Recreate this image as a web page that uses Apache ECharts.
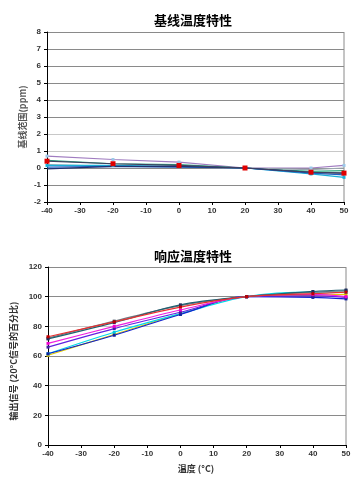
<!DOCTYPE html>
<html><head><meta charset="utf-8">
<script src="https://cdn.jsdelivr.net/npm/echarts@6/dist/echarts.min.js"></script>
<style>html,body{margin:0;padding:0;background:#fff}#c{width:359px;height:482px}</style>
</head><body><div id="c"></div>
<script>
const temps = [-40, -20, 0, 20, 40, 50];

// 基线温度特性 (ppm)
const basePurple = [0.7, 0.5, 0.35, 0, 0, 0.15];
const baseGreen  = [0.45, 0.25, 0.2, 0, -0.2, -0.15];
const baseRed    = [0.4, 0.25, 0.15, 0, -0.25, -0.3];
const baseGray   = [0.2, 0.1, 0.05, 0, -0.1, 0.0];
const baseCyan   = [0.15, 0.15, 0.1, 0, -0.35, -0.55];
const baseBlue   = [0.05, 0.1, 0.05, 0, -0.3, -0.4];
const baseNavy   = [-0.05, 0.1, 0.1, 0, -0.25, -0.3];

// 响应温度特性 (%)
const respRed     = [73, 83, 93, 100, 102, 103];
const respSlate   = [71.5, 82.5, 94.5, 100, 103.5, 104.5];
const respGray    = [72, 83.5, 94, 100, 103, 104];
const respMagenta = [68.5, 80, 91, 100, 101.5, 100];
const respViolet  = [66, 78.5, 89.5, 100, 100.5, 99.5];
const respCyan    = [61.5, 76, 88.5, 100, 103, 103];
const respBlue    = [61.5, 74, 88, 100, 99.5, 98.5];
const respYellow  = [60.5, 74.5, 88.5, 100, 101, 101.5];

const pairs = a => temps.map((t, i) => [t, a[i]]);

const tickFont = {fontFamily: 'Liberation Sans, Arial', fontSize: 8, fontWeight: 'bold', color: '#333'};

function xAxis(gi) {
  return {
    type: 'value', gridIndex: gi, min: -40, max: 50, interval: 10,
    axisLine: {onZero: false, lineStyle: {color: '#000', width: 1}},
    axisTick: {show: true, length: 3, lineStyle: {color: '#000'}},
    axisLabel: Object.assign({margin: 5}, tickFont),
    splitLine: {show: false}
  };
}
function yAxis(gi, min, max, interval, gridColors) {
  return {
    type: 'value', gridIndex: gi, min: min, max: max, interval: interval,
    axisLine: {show: true, onZero: false, lineStyle: {color: '#000', width: 1}},
    axisTick: {show: true, length: 3, lineStyle: {color: '#000'}},
    axisLabel: Object.assign({margin: 6}, tickFont),
    splitLine: {show: true, lineStyle: {color: gridColors, width: 1}}
  };
}

function line(name, data, color, gi, symbol, symColor, smooth) {
  return {
    name: name, type: 'line', xAxisIndex: gi, yAxisIndex: gi,
    data: pairs(data), smooth: smooth ? 0.35 : false,
    symbol: symbol || 'rect', symbolSize: symbol === 'none' ? 0 : 3,
    showSymbol: symbol !== 'none',
    lineStyle: {color: color, width: 1.2},
    itemStyle: {color: symColor || color},
    emphasis: {disabled: true}, animation: false
  };
}

const G = '#8a8a8a', L = '#c8c8c8';
const chart = echarts.init(document.getElementById('c'), null, {renderer: 'canvas'});
chart.setOption({
  animation: false,
  backgroundColor: '#fff',
  title: [
    {text: '基线温度特性', left: 188, top: 9, textAlign: 'center',
     textStyle: {fontSize: 13, fontWeight: 'bold', color: '#000', fontFamily: 'Noto Sans CJK SC'}},
    {text: '响应温度特性', left: 188, top: 245, textAlign: 'center',
     textStyle: {fontSize: 13, fontWeight: 'bold', color: '#000', fontFamily: 'Noto Sans CJK SC'}}
  ],
  grid: [
    {left: 47, top: 32, width: 297, height: 170, show: false},
    {left: 48, top: 267, width: 298, height: 178, show: false}
  ],
  xAxis: [xAxis(0), xAxis(1)],
  yAxis: [
    yAxis(0, -2, 8, 1, [G, G, G, L, L, G, G, G, G, G, G]),
    yAxis(1, 0, 120, 20, [G, G, G, G, L, G, G])
  ],
  graphic: [
    {type: 'line', shape: {x1: 344, y1: 32, x2: 344, y2: 202}, style: {stroke: G, lineWidth: 1}},
    {type: 'line', shape: {x1: 346, y1: 267, x2: 346, y2: 445}, style: {stroke: G, lineWidth: 1}},
    {type: 'text', x: 23, y: 117, rotation: Math.PI / 2,
     style: {text: '基线范围(ppm)', fontSize: 9, fontWeight: 'bold', fill: '#555', textAlign: 'center', textVerticalAlign: 'middle', fontFamily: 'Noto Sans CJK SC'}},
    {type: 'text', x: 14, y: 361, rotation: Math.PI / 2,
     style: {text: '输出信号 (20°C信号的百分比)', fontSize: 9, fontWeight: 'bold', fill: '#333', textAlign: 'center', textVerticalAlign: 'middle', fontFamily: 'Noto Sans CJK SC'}},
    {type: 'text', x: 196, y: 469,
     style: {text: '温度 (°C)', fontSize: 9, fontWeight: 'bold', fill: '#333', textAlign: 'center', textVerticalAlign: 'middle', fontFamily: 'Noto Sans CJK SC'}}
  ],
  series: [
    line('p', basePurple, '#a07cc0', 0, 'rect', '#9cc8e8'),
    line('g', baseGreen, '#2aa880', 0, 'none'),
    line('gr', baseGray, '#9aa8b0', 0, 'none'),
    line('c', baseCyan, '#1ab0d8', 0, 'rect', '#1ab0d8'),
    line('b', baseBlue, '#2060c0', 0, 'none'),
    line('n', baseNavy, '#203070', 0, 'none'),
    Object.assign(line('r', baseRed, '#404060', 0, 'rect', '#e00000'), {symbolSize: 5}),

    line('ry', respYellow, '#e0d000', 1, 'rect', '#e0c000', true),
    line('rc', respCyan, '#00d8e8', 1, 'rect', '#00c8e0', true),
    line('rb', respBlue, '#1020d0', 1, 'rect', '#1020a0', true),
    line('rv', respViolet, '#6020e0', 1, 'rect', '#4020a0', true),
    line('rm', respMagenta, '#f020e0', 1, 'rect', '#f000d0', true),
    line('rg', respGray, '#707880', 1, 'rect', '#405060', true),
    line('rs', respSlate, '#206070', 1, 'rect', '#203060', true),
    line('rr', respRed, '#e83030', 1, 'rect', '#c00000', true)
  ]
});
</script></body></html>
